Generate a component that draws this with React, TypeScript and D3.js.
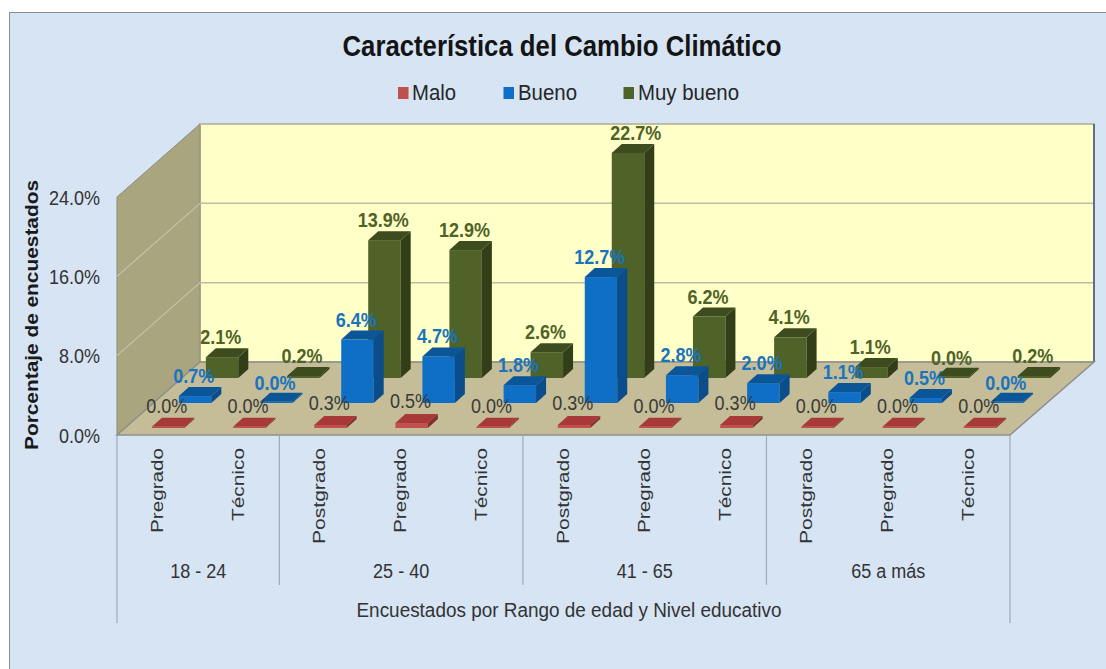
import React from "react";
import * as d3 from "d3";

const categories = ["Pregrado", "Técnico", "Postgrado", "Pregrado", "Técnico", "Postgrado", "Pregrado", "Técnico", "Postgrado", "Pregrado", "Técnico"];
const ageGroups = [
  { name: "18 - 24", count: 2 },
  { name: "25 - 40", count: 3 },
  { name: "41 - 65", count: 3 },
  { name: "65 a más", count: 3 },
];
const malo = [0.0, 0.0, 0.3, 0.5, 0.0, 0.3, 0.0, 0.3, 0.0, 0.0, 0.0];
const bueno = [0.7, 0.0, 6.4, 4.7, 1.8, 12.7, 2.8, 2.0, 1.1, 0.5, 0.0];
const muyBueno = [2.1, 0.2, 13.9, 12.9, 2.6, 22.7, 6.2, 4.1, 1.1, 0.0, 0.2];
const yTicks = [0, 8, 16, 24];

const FONT = "'Liberation Sans', Arial, sans-serif";

// Floor corners and wall height of the 3D box
const box = { fl: 117, fr: 1010, bl: 200, br: 1094, fy: 435, by: 362, top: 124 };
const depthX = 10;
const depthY = 9;

const heightOf = d3.scaleLinear().domain([0, 24]).range([0, box.by - box.top]);
const band = d3
  .scaleBand<number>()
  .domain(d3.range(categories.length))
  .range([box.fl, box.fr])
  .paddingInner(0.6)
  .paddingOuter(0.3);
// Each series stands on its own row of the floor, front to back
const rowX = d3.scaleLinear().domain([0, 2]).range([10.5, 64.5]);
const rowY = d3.scaleLinear().domain([0, 2]).range([428, 378]);

const series = [
  { name: "Muy bueno", row: 2, values: muyBueno, front: "#4f6228", top: "#3d4c1e", side: "#323e17", swatch: "#4f6228", label: "#4f6228", weight: 700, lift: 13, legendX: 623.5, textX: 638, textLen: 101 },
  { name: "Bueno", row: 1, values: bueno, front: "#0f6fc6", top: "#0a5699", side: "#0a4d8a", swatch: "#0f6fc6", label: "#1a74bd", weight: 700, lift: 13, legendX: 503.5, textX: 518, textLen: 59 },
  { name: "Malo", row: 0, values: malo, front: "#c0504d", top: "#a73a38", side: "#7f2f2d", swatch: "#c0504d", label: "#3a3a3a", weight: 400, lift: 15, legendX: 398, textX: 412, textLen: 44 },
];

const poly = (pts: [number, number][]) => d3.line()(pts) + "Z";

// Advance width of a string at a given size, used to draw tall narrow text
const ctx = document.createElement("canvas").getContext("2d") as CanvasRenderingContext2D;
function widthAt(text: string, size: number, weight = 400) {
  ctx.font = `${weight} ${size}px 'Liberation Sans'`;
  return ctx.measureText(text).width;
}

function Bar({ i, s }: { i: number; s: (typeof series)[number] }) {
  const x = (band(i) as number) + rowX(s.row);
  const w = band.bandwidth();
  const base = rowY(s.row);
  const h = Math.max(heightOf(s.values[i]), 1.2);
  const y = base - h;
  return (
    <g>
      <rect x={x} y={y} width={w} height={h} fill={s.front} />
      <path
        d={poly([[x + w, y], [x + w + depthX, y - depthY], [x + w + depthX, base - depthY], [x + w, base]])}
        fill={s.side}
      />
      <path
        d={poly([[x, y], [x + w, y], [x + w + depthX, y - depthY], [x + depthX, y - depthY]])}
        fill={s.top}
      />
    </g>
  );
}

export default function App() {
  const wallGrid = yTicks.filter((t) => t > 0);
  let cursor = 0;
  const groups = ageGroups.map((g) => {
    const start = cursor;
    cursor += g.count;
    return { ...g, x0: box.fl + band.step() * start, x1: box.fl + band.step() * cursor };
  });
  const step = (box.fr - box.fl) / categories.length;

  return (
    <svg
      width={1106}
      height={669}
      style={{ position: "fixed", left: 0, top: 0, display: "block", background: "#fff" }}
      fontFamily={FONT}
    >
      <rect x={9.5} y={12.5} width={1100} height={660} fill="#d6e4f4" stroke="#8c8f92" strokeWidth={1} />

      <text x={562} y={56} textAnchor="middle" fontSize={29} fontWeight={700} fill="#141414" textLength={439} lengthAdjust="spacingAndGlyphs">
        Característica del Cambio Climático
      </text>

      {series.map((s) => (
        <g key={s.name}>
          <rect x={s.legendX} y={87} width={10.5} height={12} fill={s.swatch} />
          <text x={s.textX} y={100} fontSize={22} fill="#262626" textLength={s.textLen} lengthAdjust="spacingAndGlyphs">
            {s.name}
          </text>
        </g>
      ))}

      {/* Back wall, side wall and floor */}
      <rect x={box.bl} y={box.top} width={box.br - box.bl} height={box.by - box.top} fill="#ffffc8" stroke="#a9a99a" strokeWidth={1.5} />
      <path d={poly([[box.fl, box.fy - heightOf(24)], [box.bl, box.top], [box.bl, box.by], [box.fl, box.fy]])} fill="#a9a57f" stroke="#8e8d7c" strokeWidth={1} />
      {wallGrid.map((t) => (
        <g key={t}>
          <line x1={box.bl} x2={box.br} y1={box.by - heightOf(t)} y2={box.by - heightOf(t)} stroke="#bdbcaa" strokeWidth={1.5} />
          {t < 24 && (
            <line x1={box.fl} x2={box.bl} y1={box.fy - heightOf(t)} y2={box.by - heightOf(t)} stroke="#c6c4a8" strokeWidth={1.2} />
          )}
        </g>
      ))}
      <line x1={box.br} x2={box.br} y1={box.top} y2={box.by} stroke="#45557f" strokeWidth={1.5} />
      <path d={poly([[box.bl, box.by], [box.br, box.by], [box.fr, box.fy], [box.fl, box.fy]])} fill="#c4bd97" stroke="#8d8f8a" strokeWidth={1.5} />

      {/* Bars, back row first so the nearer rows overlap it */}
      {series.map((s) => (
        <g key={s.name}>
          {s.values.map((_, i) => (
            <Bar key={i} i={i} s={s} />
          ))}
        </g>
      ))}

      {/* Value labels */}
      {series.map((s) => (
        <g key={s.name}>
          {s.values.map((v, i) => {
            const x = (band(i) as number) + rowX(s.row) + 15 + (v === 22.7 ? 9 : 0);
            const y = rowY(s.row) - heightOf(v) - s.lift;
            const t = `${d3.format(".1f")(v)}%`;
            return (
              <text key={i} x={x} y={y} textAnchor="middle" fontSize={20} fontWeight={s.weight} fill={s.label} textLength={widthAt(t, 18, s.weight)} lengthAdjust="spacingAndGlyphs">
                {t}
              </text>
            );
          })}
        </g>
      ))}

      {/* Value axis */}
      {yTicks.map((t) => {
        const label = `${d3.format(".1f")(t)}%`;
        const w = widthAt(label, 18);
        return (
          <text key={t} x={100 - w} y={box.fy - heightOf(t) + 7.5} fontSize={20} fill="#333" textLength={w} lengthAdjust="spacingAndGlyphs">
            {label}
          </text>
        );
      })}
      <text transform="translate(38,315) rotate(-90)" textAnchor="middle" fontSize={18} fontWeight={700} fill="#1a1a1a" textLength={270} lengthAdjust="spacingAndGlyphs">
        Porcentaje de encuestados
      </text>

      {/* Multi-level category axis */}
      {categories.map((c, i) => {
        const cx = box.fl + step * (i + 0.5);
        const len = c === "Postgrado" ? 96 : c === "Pregrado" ? 85 : 73;
        return (
          <text key={i} transform={`translate(${cx + 5},448) rotate(-90)`} textAnchor="end" fontSize={17} fill="#333" textLength={len} lengthAdjust="spacingAndGlyphs">
            {c}
          </text>
        );
      })}
      {groups.map((g, i) => (
        <g key={g.name}>
          <text x={(g.x0 + g.x1) / 2} y={578} textAnchor="middle" fontSize={20} fill="#333" textLength={widthAt(g.name, 18)} lengthAdjust="spacingAndGlyphs">
            {g.name}
          </text>
          <line x1={g.x0} x2={g.x0} y1={box.fy} y2={i === 0 ? 623 : 585} stroke="#a3a9b0" strokeWidth={1.2} />
        </g>
      ))}
      <line x1={box.fr} x2={box.fr} y1={box.fy} y2={623} stroke="#a3a9b0" strokeWidth={1.2} />
      <text x={569} y={617} textAnchor="middle" fontSize={20} fill="#333" textLength={425} lengthAdjust="spacingAndGlyphs">
        Encuestados por Rango de edad y Nivel educativo
      </text>
    </svg>
  );
}
